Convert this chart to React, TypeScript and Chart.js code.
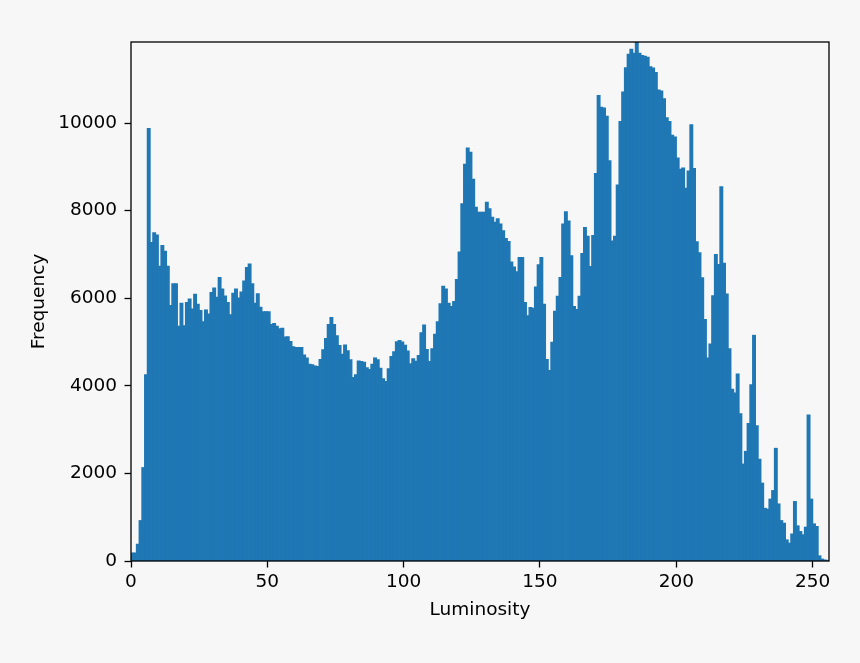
import React, { useEffect, useRef } from 'react';
import { Chart, registerables } from 'chart.js';

Chart.register(...registerables);

// Histogram counts per luminosity bin (bin width 1)
const freqBins0to63 = [
  180, 180, 380, 920, 2130, 4250, 9870, 7270, 7490, 7440,
  6730, 7200, 7070, 6730, 5830, 6330, 6330, 5360, 5880, 5370,
  5900, 5980, 5750, 6090, 5860, 5720, 5460, 5730, 5640, 6130,
  6230, 6020, 6470, 6210, 6050, 5900, 5620, 6110, 6210, 6000,
  6140, 6390, 6700, 6780, 6330, 5880, 6100, 5790, 5690, 5690,
  5690, 5400, 5420, 5360, 5300, 5310, 5110, 5120, 5010, 4890,
  4875, 4875, 4870, 4700,
];
const freqBins64to127 = [
  4630, 4490, 4480, 4450, 4440, 4600, 4820, 5080, 5400, 5555,
  5400, 5140, 4920, 4720, 4930, 4800, 4590, 4190, 4250, 4565,
  4550, 4535, 4410, 4370, 4490, 4635, 4590, 4400, 4160, 4095,
  4385, 4665, 4775, 5005, 5035, 5000, 4925, 4795, 4500, 4615,
  4560, 4690, 5210, 5385, 4825, 4555, 4845, 5175, 5460, 5870,
  6270, 6210, 5885, 5810, 5925, 6425, 7055, 8155, 9055, 9425,
  9330, 8715, 8075, 7960,
];
const freqBins128to191 = [
  7960, 7960, 8190, 8040, 7845, 7730, 7810, 7690, 7540, 7360,
  7290, 6825, 6710, 6600, 6925, 6925, 5900, 5600, 5785, 5770,
  6255, 6760, 6925, 5860, 4600, 4345, 4990, 5700, 6040, 6470,
  7690, 7970, 7760, 6970, 5810, 5740, 6040, 7020, 7610, 7410,
  6720, 7430, 8845, 10625, 10360, 10340, 10150, 9135, 7305, 7410,
  8585, 10030, 10705, 11260, 11570, 11685, 11590, 11850, 11590, 11540,
  11520, 11500, 11280, 11255,
];
const freqBins192to255 = [
  11150, 10750, 10730, 10550, 10120, 10030, 9720, 9680, 9200, 8940,
  8970, 8510, 8900, 9960, 8960, 7285, 7035, 6465, 5510, 4635,
  4950, 6055, 6995, 6770, 8540, 6795, 6095, 4845, 3920, 3835,
  4270, 3360, 2210, 2500, 3140, 4020, 5150, 3085, 2320, 1775,
  1200, 1180, 1410, 1605, 2570, 1300, 920, 860, 480, 405,
  615, 1355, 800, 670, 595, 770, 3330, 1410, 845, 785,
  115, 40, 20, 5,
];

const frequencies = [...freqBins0to63, ...freqBins64to127, ...freqBins128to191, ...freqBins192to255];
// lower edge of each luminosity bin (categories)
const binStarts = frequencies.map((_, i) => i);

const xTickValues = [0, 50, 100, 150, 200, 250];
const yTickValues = [0, 2000, 4000, 6000, 8000, 10000];
const X_MIN = 0;
const X_MAX = 256;
const Y_MAX = 11850;

const xTitle = 'Luminosity';
const yTitle = 'Frequency';

const FONT = "'DejaVu Sans', sans-serif";
const FONT_SIZE = 18.5;

const framePlugin = {
  id: 'frame',
  afterDraw(chart: any) {
    const { ctx, chartArea } = chart;
    ctx.save();
    ctx.strokeStyle = '#000';
    ctx.lineWidth = 1.3;
    ctx.strokeRect(chartArea.left, chartArea.top, chartArea.right - chartArea.left, chartArea.bottom - chartArea.top);
    ctx.restore();
  },
};

export default function App() {
  const canvasRef = useRef<HTMLCanvasElement | null>(null);

  useEffect(() => {
    if (!canvasRef.current) return;
    const chart = new Chart(canvasRef.current, {
      type: 'bar',
      data: {
        datasets: [
          {
            label: 'Frequency',
            data: binStarts.map((b, i) => ({ x: b + 0.5, y: frequencies[i] })),
            backgroundColor: '#1f77b4',
            borderWidth: 0,
            barPercentage: 1,
            categoryPercentage: 1,
            inflateAmount: 0.6,
          },
        ],
      },
      options: {
        responsive: false,
        animation: false,
        events: [],
        layout: { padding: { left: 0, top: 42, right: 31, bottom: 0 } },
        plugins: {
          legend: { display: false },
          tooltip: { enabled: false },
        },
        scales: {
          x: {
            type: 'linear',
            min: X_MIN,
            max: X_MAX,
            offset: false,
            afterBuildTicks: (scale: any) => {
              scale.ticks = xTickValues.map((v) => ({ value: v }));
            },
            afterFit: (scale: any) => {
              scale.height = 102;
            },
            grid: {
              display: true,
              drawOnChartArea: false,
              drawTicks: true,
              tickLength: 6.5,
              tickColor: '#000',
              tickWidth: 1.3,
              offset: false,
            },
            border: { display: false },
            ticks: {
              color: '#000',
              font: { family: FONT, size: FONT_SIZE },
              padding: 4,
              maxRotation: 0,
              autoSkip: false,
              callback: (v: any) => String(v),
            },
            title: {
              display: true,
              text: xTitle,
              color: '#000',
              font: { family: FONT, size: FONT_SIZE },
              padding: { top: 0, bottom: 42 },
            },
          },
          y: {
            type: 'linear',
            min: 0,
            max: Y_MAX,
            afterBuildTicks: (scale: any) => {
              scale.ticks = yTickValues.map((v) => ({ value: v }));
            },
            afterFit: (scale: any) => {
              scale.width = 131;
            },
            grid: {
              display: true,
              drawOnChartArea: false,
              drawTicks: true,
              tickLength: 6.5,
              tickColor: '#000',
              tickWidth: 1.3,
            },
            border: { display: false },
            ticks: {
              color: '#000',
              font: { family: FONT, size: FONT_SIZE },
              padding: 7.5,
              autoSkip: false,
              callback: (v: any) => String(v),
            },
            title: {
              display: true,
              text: yTitle,
              color: '#000',
              font: { family: FONT, size: FONT_SIZE },
              padding: { top: 28, bottom: 0 },
            },
          },
        },
      },
      plugins: [framePlugin],
    } as any);
    return () => chart.destroy();
  }, []);

  return (
    <div style={{ position: 'absolute', left: 0, top: 0, width: 860, height: 663, background: '#f7f7f7' }}>
      <canvas ref={canvasRef} width={860} height={663} style={{ display: 'block', width: 860, height: 663 }} />
    </div>
  );
}
